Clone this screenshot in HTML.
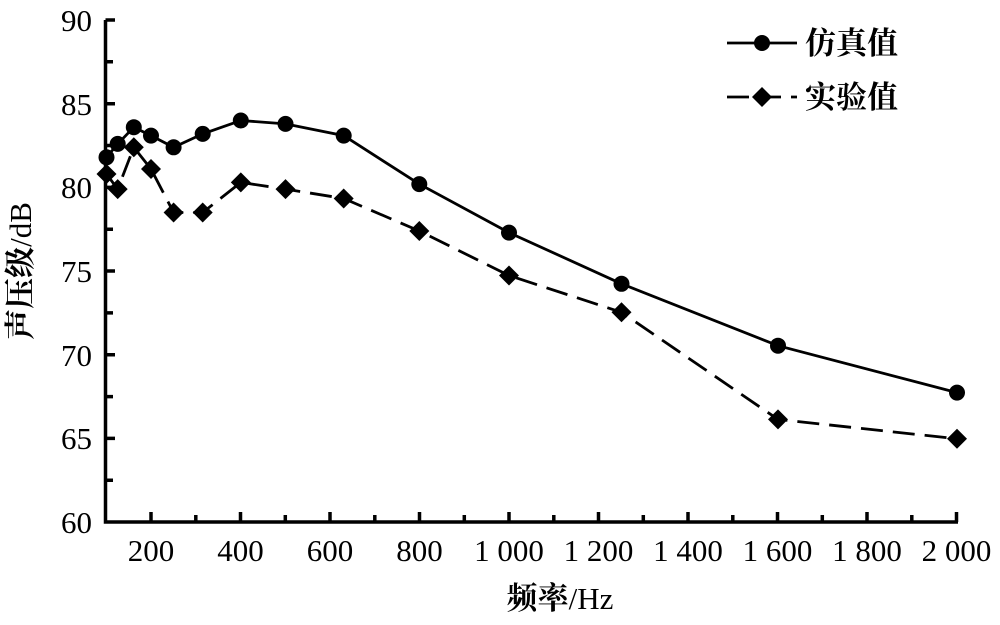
<!DOCTYPE html>
<html><head><meta charset="utf-8"><style>body{margin:0;background:#fff}</style></head>
<body>
<svg width="1000" height="620" xmlns="http://www.w3.org/2000/svg" font-family="'Liberation Serif','Noto Serif CJK SC',serif" font-size="31">
<rect width="1000" height="620" fill="#fff"/>
<g stroke="#000" stroke-width="3.5" fill="none">
<path d="M105.5,20 V522 H958"/>
<path d="M105.5,20H115 M105.5,61.8H113 M105.5,103.7H115 M105.5,145.5H113 M105.5,187.4H115 M105.5,229.2H113 M105.5,271H115 M105.5,312.9H113 M105.5,354.7H115 M105.5,396.6H113 M105.5,438.4H115 M105.5,480.2H113"/>
<path d="M151,522V512 M195.8,522V515 M240.5,522V512 M285.3,522V515 M330,522V512 M374.8,522V515 M419.5,522V512 M464.3,522V515 M509,522V512 M553.8,522V515 M598.5,522V512 M643.3,522V515 M688,522V512 M732.8,522V515 M777.5,522V512 M822.3,522V515 M867,522V512 M911.8,522V515 M956.5,522V512"/>
</g>
<g text-anchor="end">
<text x="92" y="31">90</text><text x="92" y="115">85</text><text x="92" y="198">80</text><text x="92" y="282">75</text><text x="92" y="366">70</text><text x="92" y="449">65</text><text x="92" y="533">60</text>
</g>
<g text-anchor="middle">
<text x="151" y="561">200</text><text x="240.5" y="561">400</text><text x="330" y="561">600</text><text x="419.5" y="561">800</text>
<text x="509" y="561">1 000</text><text x="598.5" y="561">1 200</text><text x="688" y="561">1 400</text><text x="777.5" y="561">1 600</text><text x="867" y="561">1 800</text><text x="956.5" y="561">2 000</text>
<text x="560" y="609" font-weight="bold">频率<tspan font-weight="normal">/Hz</tspan></text>
<text transform="translate(31,271) rotate(-90)" font-weight="bold">声压级<tspan font-weight="normal">/dB</tspan></text>
</g>
<polyline fill="none" stroke="#000" stroke-width="2.8" points="106.5,157.3 117.7,143.9 133.8,127.2 151,135.6 173.6,147.3 202.7,133.9 240.8,120.5 285.5,123.9 343.7,135.6 419.3,184.1 509,232.6 621.5,283.8 778,345.7 957,392.6"/>
<polyline fill="none" stroke="#000" stroke-width="2.8" stroke-dasharray="22,10" points="106.5,174 117.7,189.1 133.8,147.3 151,169 173.6,212.5 202.7,212.5 240.8,182.4 285.5,189.1 343.7,198.5 419.3,231 509,275.5 621.5,312.3 778,419.4 957,438.8"/>
<g fill="#000">
<circle cx="106.5" cy="157.3" r="8"/><circle cx="117.7" cy="143.9" r="8"/><circle cx="133.8" cy="127.2" r="8"/><circle cx="151" cy="135.6" r="8"/><circle cx="173.6" cy="147.3" r="8"/><circle cx="202.7" cy="133.9" r="8"/><circle cx="240.8" cy="120.5" r="8"/><circle cx="285.5" cy="123.9" r="8"/><circle cx="343.7" cy="135.6" r="8"/><circle cx="419.3" cy="184.1" r="8"/><circle cx="509" cy="232.6" r="8"/><circle cx="621.5" cy="283.8" r="8"/><circle cx="778" cy="345.7" r="8"/><circle cx="957" cy="392.6" r="8"/>
<circle cx="762" cy="43" r="8"/>
</g>
<g fill="#000">
<path d="M0,-10L10,0L0,10L-10,0Z" transform="translate(106.5,174)"/>
<path d="M0,-10L10,0L0,10L-10,0Z" transform="translate(117.7,189.1)"/>
<path d="M0,-10L10,0L0,10L-10,0Z" transform="translate(133.8,147.3)"/>
<path d="M0,-10L10,0L0,10L-10,0Z" transform="translate(151,169)"/>
<path d="M0,-10L10,0L0,10L-10,0Z" transform="translate(173.6,212.5)"/>
<path d="M0,-10L10,0L0,10L-10,0Z" transform="translate(202.7,212.5)"/>
<path d="M0,-10L10,0L0,10L-10,0Z" transform="translate(240.8,182.4)"/>
<path d="M0,-10L10,0L0,10L-10,0Z" transform="translate(285.5,189.1)"/>
<path d="M0,-10L10,0L0,10L-10,0Z" transform="translate(343.7,198.5)"/>
<path d="M0,-10L10,0L0,10L-10,0Z" transform="translate(419.3,231)"/>
<path d="M0,-10L10,0L0,10L-10,0Z" transform="translate(509,275.5)"/>
<path d="M0,-10L10,0L0,10L-10,0Z" transform="translate(621.5,312.3)"/>
<path d="M0,-10L10,0L0,10L-10,0Z" transform="translate(778,419.4)"/>
<path d="M0,-10L10,0L0,10L-10,0Z" transform="translate(957,438.8)"/>
<path d="M0,-10L10,0L0,10L-10,0Z" transform="translate(762,97)"/>
</g>
<path d="M727,43H797" stroke="#000" stroke-width="2.8"/>
<path d="M727,97H797" stroke="#000" stroke-width="2.8" stroke-dasharray="22,10"/>
<text x="805" y="54" font-weight="bold">仿真值</text>
<text x="805" y="108" font-weight="bold">实验值</text>
</svg>
</body></html>
